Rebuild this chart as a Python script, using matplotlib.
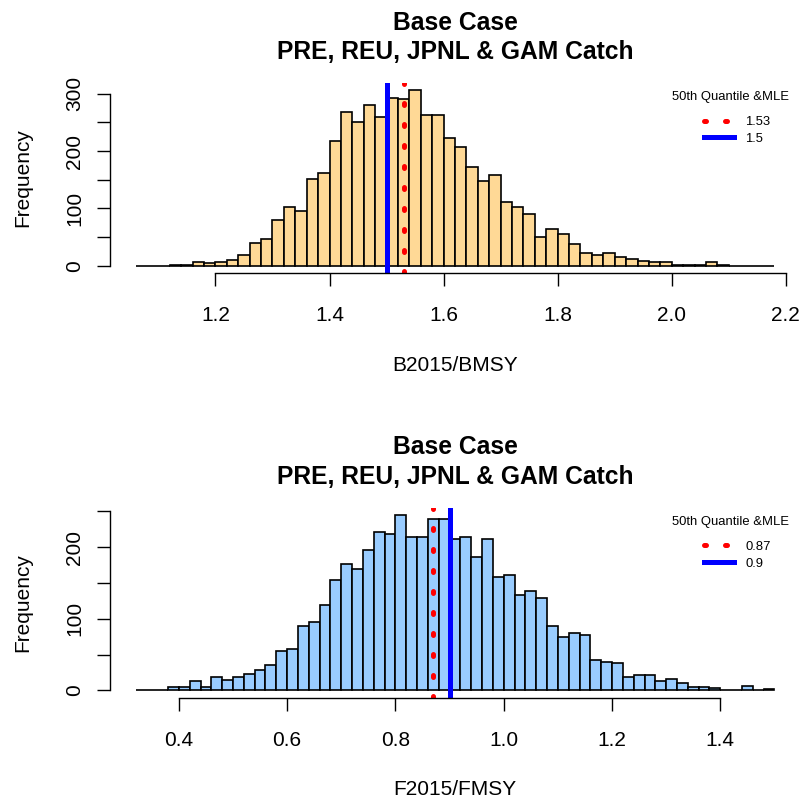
import numpy as np
import matplotlib
matplotlib.use("Agg")
import matplotlib.pyplot as plt
from matplotlib.lines import Line2D

plt.rcParams['font.family'] = ['Liberation Sans', 'DejaVu Sans']

# B2015/BMSY histogram (bins of 0.02 starting at 1.06)
b_start = 1.06
b_width = 0.02
b_counts = [0, 0, 0, 1, 2, 6, 4, 6, 10, 19, 40, 47, 80, 102, 95, 151, 161, 217,
            268, 250, 281, 259, 293, 291, 306, 263, 263, 223, 207, 172, 148, 158,
            111, 102, 90, 51, 65, 55, 38, 22, 19, 22, 15, 12, 9, 6, 6, 2, 2, 2,
            6, 2, 0, 0, 0, 0]
b_median = 1.53
b_mle = 1.5

# F2015/FMSY histogram (bins of 0.02 starting at 0.32)
f_start = 0.32
f_width = 0.02
f_counts = [1, 1, 0, 5, 5, 13, 5, 19, 15, 19, 23, 28, 36, 55, 58, 90, 95, 120,
            154, 176, 169, 196, 221, 218, 245, 215, 215, 240, 240, 212, 215, 186,
            212, 159, 161, 134, 139, 129, 90, 75, 80, 78, 43, 40, 38, 19, 21, 21,
            13, 16, 11, 5, 5, 3, 0, 0, 6, 0, 2]
f_median = 0.87
f_mle = 0.9

title = "Base Case\nPRE, REU, JPNL & GAM Catch"

W, H = 799, 798
fig = plt.figure(figsize=(W / 100, H / 100), dpi=100)


def panel(top_px, start, width, counts, med, mle, color, xticks, yticks, ylabels, xlabel):
    bottom_px = top_px + 189.5
    ax = fig.add_axes([110 / W, 1 - bottom_px / H, 690 / W, 189.5 / H])
    counts = np.array(counts)
    lefts = start + width * np.arange(len(counts))
    ax.bar(lefts, counts, width=width, align='edge', color=color,
           edgecolor='black', linewidth=1.2)
    lo, hi = lefts[0], lefts[-1] + width
    pad = 0.04 * (hi - lo)
    ax.set_xlim(lo - pad, hi + pad)
    ax.set_ylim(-0.04 * counts.max(), 1.04 * counts.max())

    ax.axvline(med, color='red', lw=3.6, linestyle=(0, (0.4, 3.8)),
               dash_capstyle='round')
    ax.axvline(mle, color='blue', lw=3.6)

    for s in ['top', 'right']:
        ax.spines[s].set_visible(False)
    ax.spines['left'].set_bounds(yticks[0], yticks[-1])
    ax.spines['bottom'].set_bounds(xticks[0], xticks[-1])
    ax.spines['left'].set_linewidth(1.0)
    ax.spines['bottom'].set_linewidth(1.0)
    ax.set_xticks(xticks)
    ax.set_xticklabels(['%.1f' % t for t in xticks])
    ax.set_yticks(yticks)
    ax.set_yticklabels(ylabels, rotation=90, va='center')
    ax.tick_params(direction='out', length=9.4, width=1.0, labelsize=15)
    ax.tick_params(axis='x', pad=14.5)
    ax.tick_params(axis='y', pad=9)
    ax.set_xlabel(xlabel, fontsize=15, labelpad=22)
    ax.set_ylabel('Frequency', fontsize=15, labelpad=24)
    ax.set_title(title, fontsize=17.7, fontweight='bold', pad=17.5, linespacing=1.28)

    ax.text(0.9, 0.928, '50th Quantile &MLE', transform=ax.transAxes,
            ha='center', va='center', fontsize=9.4)
    h1 = Line2D([], [], color='red', lw=3.6, linestyle=(0, (0.4, 3.8)),
                dash_capstyle='round')
    h2 = Line2D([], [], color='blue', lw=3.6)
    ax.legend([h1, h2], [str(med), str(mle)], fontsize=9.4, frameon=False,
              loc='upper left', bbox_to_anchor=(587 / 690, 0.862), borderpad=0,
              handlelength=2.3, handletextpad=0.9, labelspacing=0.35)
    return ax


panel(83.3, b_start, b_width, b_counts, b_median, b_mle, '#FFD996',
      [1.2, 1.4, 1.6, 1.8, 2.0, 2.2], [0, 50, 100, 150, 200, 250, 300],
      ['0', '', '100', '', '200', '', '300'], 'B2015/BMSY')
panel(508.0, f_start, f_width, f_counts, f_median, f_mle, '#99CCFF',
      [0.4, 0.6, 0.8, 1.0, 1.2, 1.4], [0, 50, 100, 150, 200, 250],
      ['0', '', '100', '', '200', ''], 'F2015/FMSY')

fig.savefig('out.png', dpi=100)
